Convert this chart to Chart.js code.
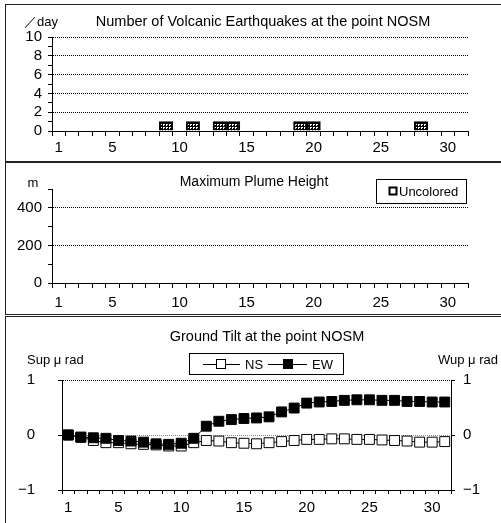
<!DOCTYPE html>
<html>
<head>
<meta charset="utf-8">
<script src="https://cdn.jsdelivr.net/npm/chart.js@4.4.1/dist/chart.umd.min.js"></script>
<style>
    body { margin: 0; background: #fff; }
    #pagina { position: relative; width: 501px; height: 523px; overflow: hidden; }
    .painel { position: absolute; left: 5px; width: 520px; border: 1px solid #222; box-sizing: border-box; }
    canvas { position: absolute; left: 0; }
</style>
</head>
<body>
<div id="pagina">
    <div class="painel" style="top:4px;height:158px"></div>
    <div class="painel" style="top:162px;height:153px"></div>
    <div class="painel" style="top:316px;height:220px"></div>
    <canvas id="graficoSismos" width="501" height="160" style="top:0"></canvas>
    <canvas id="graficoPluma" width="501" height="155" style="top:160px"></canvas>
    <canvas id="graficoInclinacao" width="501" height="207" style="top:316px"></canvas>
</div>
<script>
// dias do mes
const dias = [
    "1", "2", "3", "4", "5", "6", "7", "8", "9", "10",
    "11", "12", "13", "14", "15", "16", "17", "18", "19", "20",
    "21", "22", "23", "24", "25", "26", "27", "28", "29", "30", "31"
];
const diasComRotulo = ["1", "5", "10", "15", "20", "25", "30"];

// numero de sismos por dia
const sismos = [
    0, 0, 0, 0, 0, 0, 0, 0, 1, 0,
    1, 0, 1, 1, 0, 0, 0, 0, 1, 1,
    0, 0, 0, 0, 0, 0, 0, 1, 0, 0, 0
];
const ticksSismos = [0, 2, 4, 6, 8, 10];

// altura da pluma (sem observacoes)
const alturaPluma = [];
const ticksPluma = [0, 200, 400];

// inclinacao do solo
const inclinacaoNS = [
    0.00, -0.04, -0.10, -0.14, -0.14, -0.16, -0.17, -0.18, -0.20, -0.20,
    -0.14, -0.10, -0.11, -0.14, -0.15, -0.16, -0.14, -0.12, -0.10, -0.08,
    -0.08, -0.07, -0.07, -0.08, -0.08, -0.09, -0.10, -0.11, -0.13, -0.13, -0.12
];
const inclinacaoEW = [
    0.00, -0.04, -0.05, -0.06, -0.10, -0.11, -0.13, -0.16, -0.17, -0.15,
    -0.06, 0.16, 0.25, 0.28, 0.30, 0.31, 0.33, 0.42, 0.49, 0.58,
    0.60, 0.61, 0.63, 0.64, 0.64, 0.63, 0.63, 0.61, 0.61, 0.60, 0.60
];
const ticksInclinacao = [-1, 0, 1];

const FONTE = "Liberation Sans";
const FONTE_TEXTO = "13px 'Liberation Sans'";
const FONTE_TITULO = "14.5px 'Liberation Sans'";

Chart.defaults.font.family = FONTE;
Chart.defaults.color = "#000";

// textos e legendas desenhados no canvas
const textosPlugin = {
    id: "textos",
    afterDraw(chart, args, opts) {
        const ctx = chart.ctx;
        ctx.save();
        ctx.fillStyle = "#000";
        ctx.strokeStyle = "#000";
        ctx.textBaseline = "middle";

        (opts.itens || []).forEach(t => {
            ctx.font = t.font || FONTE_TEXTO;
            ctx.textAlign = t.align || "left";
            ctx.fillText(t.texto, t.x, t.y);
        });

        const leg = opts.legenda;
        if (leg) {
            ctx.lineWidth = 1;
            ctx.strokeRect(leg.caixa[0] + 0.5, leg.caixa[1] + 0.5, leg.caixa[2], leg.caixa[3]);
            leg.itens.forEach(it => {
                if (it.linha) {
                    ctx.beginPath();
                    ctx.moveTo(it.linha[0], leg.y + 0.5);
                    ctx.lineTo(it.linha[1], leg.y + 0.5);
                    ctx.stroke();
                }
                const s = it.tamanho;
                if (it.marcador === "pequeno") {
                    ctx.lineWidth = 2;
                    ctx.fillStyle = "#fff";
                    ctx.fillRect(it.xm - s / 2, leg.y - s / 2, s, s);
                    ctx.strokeRect(it.xm - s / 2, leg.y - s / 2, s, s);
                    ctx.lineWidth = 1;
                } else {
                    ctx.fillStyle = it.marcador === "cheio" ? "#000" : "#fff";
                    ctx.fillRect(it.xm - s / 2, leg.y - s / 2, s, s);
                    ctx.strokeRect(it.xm - s / 2 + 0.5, leg.y - s / 2 + 0.5, s - 1, s - 1);
                }
                ctx.fillStyle = "#000";
                ctx.font = FONTE_TEXTO;
                ctx.textAlign = "left";
                ctx.fillText(it.texto, it.xt, leg.y + 1);
            });
        }
        ctx.restore();
    }
};

// padrao quadriculado das barras (grade preta com pontos brancos)
function criarPadrao() {
    const c = document.createElement("canvas");
    c.width = 3;
    c.height = 3;
    const g = c.getContext("2d");
    g.fillStyle = "#000";
    g.fillRect(0, 0, 3, 3);
    g.fillStyle = "#fff";
    g.fillRect(1, 1, 2, 2);
    g.fillStyle = "#000";
    g.fillRect(2, 2, 1, 1);
    return g.createPattern(c, "repeat");
}

function eixoX(alturaEixo, tamanhoTick, espaco) {
    return {
        type: "category",
        offset: true,
        grid: {
            offset: true,
            drawOnChartArea: false,
            drawTicks: true,
            tickLength: tamanhoTick,
            tickColor: "#000"
        },
        border: { display: true, color: "#000", width: 1 },
        ticks: {
            autoSkip: false,
            maxRotation: 0,
            padding: espaco,
            font: { size: 15 },
            callback: (v, i) => diasComRotulo.includes(dias[i]) ? dias[i] : ""
        },
        afterFit: s => { s.height = alturaEixo; }
    };
}

function eixoY(opcoes) {
    return {
        position: opcoes.posicao || "left",
        min: opcoes.min,
        max: opcoes.max,
        grid: {
            drawOnChartArea: opcoes.grade !== false,
            color: opcoes.corGrade || "rgba(0,0,0,0)",
            tickColor: "#000",
            tickLength: 4
        },
        border: { display: true, color: "#000", width: 1, dash: [1, 1] },
        ticks: {
            stepSize: opcoes.passo,
            autoSkip: false,
            padding: opcoes.espaco,
            font: { size: 15 },
            callback: v => opcoes.rotulos.includes(v) ? (v < 0 ? "\u2212" + Math.abs(v) : String(v)) : ""
        },
        afterFit: s => { s.width = opcoes.largura; }
    };
}

new Chart(
    document.getElementById("graficoSismos"),
    {
        type: "bar",
        data: {
            labels: dias,
            datasets: [
                {
                    data: sismos,
                    backgroundColor: criarPadrao(),
                    borderColor: "#000",
                    borderWidth: 2,
                    borderSkipped: "bottom",
                    barPercentage: 1,
                    categoryPercentage: 1
                }
            ]
        },
        options: {
            responsive: false,
            animation: false,
            layout: { padding: { top: 37, right: 33, left: 0, bottom: 0 } },
            plugins: {
                legend: { display: false },
                tooltip: { enabled: false },
                textos: {
                    itens: [
                        { texto: "\uFF0Fday", x: 24, y: 22 },
                        { texto: "Number of Volcanic Earthquakes at the point NOSM", x: 263, y: 22, align: "center", font: FONTE_TITULO }
                    ]
                }
            },
            scales: {
                x: eixoX(29, 5, 3),
                y: eixoY({
                    min: 0, max: 10, passo: 1, rotulos: ticksSismos, largura: 52, espaco: 6,
                    corGrade: c => (c.tick && c.tick.value > 0 && ticksSismos.includes(c.tick.value)) ? "#000" : "rgba(0,0,0,0)"
                })
            }
        },
        plugins: [textosPlugin]
    }
);

new Chart(
    document.getElementById("graficoPluma"),
    {
        type: "bar",
        data: {
            labels: dias,
            datasets: [
                {
                    label: "Uncolored",
                    data: alturaPluma,
                    backgroundColor: "#fff",
                    borderColor: "#000",
                    borderWidth: 1
                }
            ]
        },
        options: {
            responsive: false,
            animation: false,
            layout: { padding: { top: 29, right: 33, left: 0, bottom: 0 } },
            plugins: {
                legend: { display: false },
                tooltip: { enabled: false },
                textos: {
                    itens: [
                        { texto: "m", x: 33, y: 23, align: "center" },
                        { texto: "Maximum Plume Height", x: 254, y: 22, align: "center", font: "14px 'Liberation Sans'" }
                    ],
                    legenda: {
                        caixa: [376, 19, 90, 24],
                        y: 31,
                        itens: [
                            { marcador: "pequeno", tamanho: 7, xm: 393, texto: "Uncolored", xt: 399 }
                        ]
                    }
                }
            },
            scales: {
                x: eixoX(32, 5, 6),
                y: eixoY({
                    min: 0, max: 500, passo: 100, rotulos: ticksPluma, largura: 52, espaco: 6,
                    corGrade: c => (c.tick && c.tick.value > 0 && ticksPluma.includes(c.tick.value)) ? "#000" : "rgba(0,0,0,0)"
                })
            }
        },
        plugins: [textosPlugin]
    }
);

new Chart(
    document.getElementById("graficoInclinacao"),
    {
        type: "line",
        data: {
            labels: dias,
            datasets: [
                {
                    label: "NS",
                    data: inclinacaoNS,
                    order: 1,
                    borderColor: "#000",
                    borderWidth: 1,
                    pointStyle: "rect",
                    pointRadius: 7,
                    pointBackgroundColor: "#fff",
                    pointBorderColor: "#000",
                    pointBorderWidth: 1,
                    clip: false
                },
                {
                    label: "EW",
                    data: inclinacaoEW,
                    order: 0,
                    borderColor: "#000",
                    borderWidth: 1,
                    pointStyle: "rect",
                    pointRadius: 7,
                    pointBackgroundColor: "#000",
                    pointBorderColor: "#000",
                    pointBorderWidth: 1,
                    clip: false
                }
            ]
        },
        options: {
            responsive: false,
            animation: false,
            layout: { padding: { top: 64, right: 0, left: 0, bottom: 0 } },
            plugins: {
                legend: { display: false },
                tooltip: { enabled: false },
                textos: {
                    itens: [
                        { texto: "Ground Tilt at the point NOSM", x: 267, y: 21, align: "center", font: FONTE_TITULO },
                        { texto: "Sup \u03BC rad", x: 27, y: 44 },
                        { texto: "Wup \u03BC rad", x: 438, y: 44 }
                    ],
                    legenda: {
                        caixa: [189, 37, 154, 21],
                        y: 48,
                        itens: [
                            { linha: [203, 240], marcador: "aberto", tamanho: 10, xm: 221, texto: "NS", xt: 245 },
                            { linha: [268, 307], marcador: "cheio", tamanho: 10, xm: 288, texto: "EW", xt: 312 }
                        ]
                    }
                }
            },
            scales: {
                x: eixoX(33, 4, 5),
                y: eixoY({
                    min: -1, max: 1, passo: 1, rotulos: ticksInclinacao, largura: 62, espaco: 23,
                    corGrade: c => !c.tick ? "rgba(0,0,0,0)" : (c.tick.value === 1 ? "#000" : (c.tick.value === 0 ? "#888" : "rgba(0,0,0,0)"))
                }),
                y2: eixoY({
                    posicao: "right", min: -1, max: 1, passo: 1, rotulos: ticksInclinacao, largura: 50, espaco: 8, grade: false
                })
            }
        },
        plugins: [textosPlugin]
    }
);
</script>
</body>
</html>
